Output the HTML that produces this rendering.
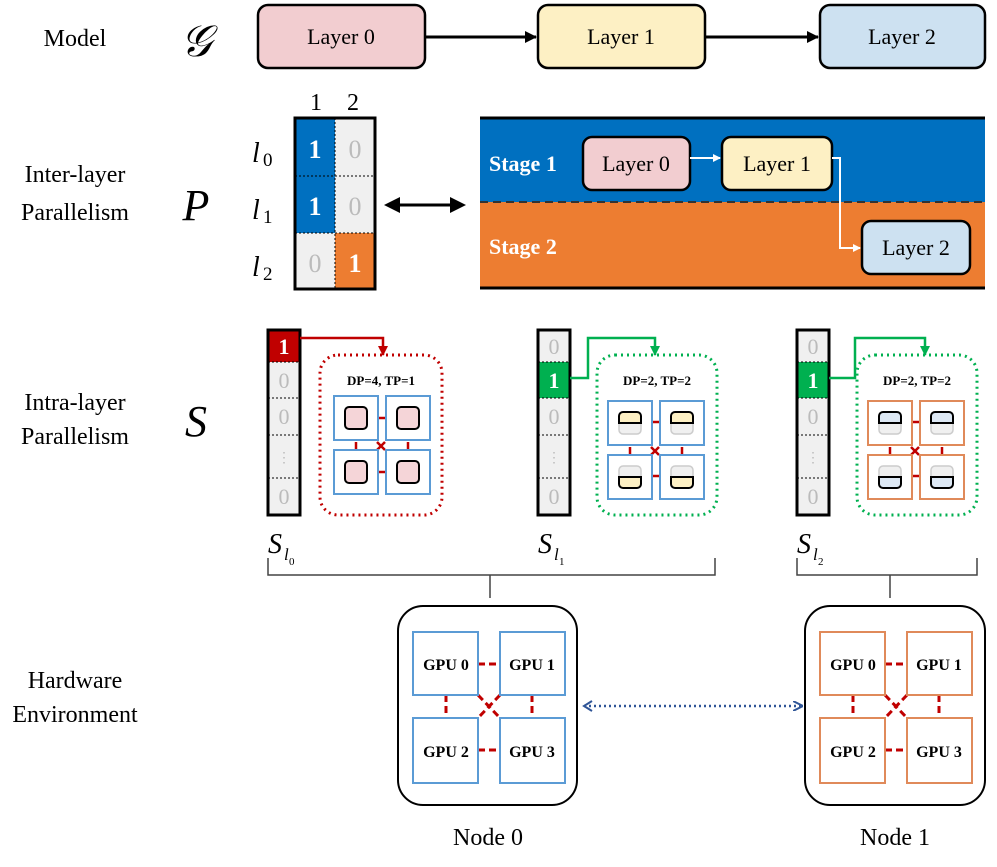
<!DOCTYPE html>
<html><head><meta charset="utf-8"><style>body{margin:0;background:#fff}svg{display:block}</style></head><body>
<svg width="997" height="867" viewBox="0 0 997 867" xmlns="http://www.w3.org/2000/svg" font-family="Liberation Serif, serif">
<defs>
<marker id="ab" markerWidth="12" markerHeight="12" refX="11" refY="6" orient="auto" markerUnits="userSpaceOnUse"><path d="M0,0 L12,6 L0,12 Z" fill="#000"/></marker>
<marker id="aw" markerWidth="8" markerHeight="8" refX="7" refY="4" orient="auto" markerUnits="userSpaceOnUse"><path d="M0,0 L8,4 L0,8 Z" fill="#fff"/></marker>
<marker id="ar" markerWidth="10" markerHeight="10" refX="9" refY="5" orient="auto" markerUnits="userSpaceOnUse"><path d="M0,0 L10,5 L0,10 Z" fill="#c00000"/></marker>
<marker id="ag" markerWidth="10" markerHeight="10" refX="9" refY="5" orient="auto" markerUnits="userSpaceOnUse"><path d="M0,0 L10,5 L0,10 Z" fill="#00b050"/></marker>
<marker id="abl" markerWidth="10" markerHeight="10" refX="9" refY="5" orient="auto" markerUnits="userSpaceOnUse"><path d="M0,0 L10,5 L0,10" fill="none" stroke="#2f5597" stroke-width="2"/></marker>
</defs>
<g font-size="24" text-anchor="middle" fill="#000">
<text x="75" y="46">Model</text>
<text x="75" y="182">Inter-layer</text>
<text x="75" y="220">Parallelism</text>
<text x="75" y="410">Intra-layer</text>
<text x="75" y="444">Parallelism</text>
<text x="75" y="688">Hardware</text>
<text x="75" y="722">Environment</text>
</g>
<g font-size="44" font-style="italic" text-anchor="middle">
<text x="196" y="56">𝒢</text>
<text x="196" y="220">P</text>
<text x="196" y="436">S</text>
</g>
<rect x="258" y="5" width="167" height="63" rx="10" fill="#f2cdd0" stroke="#000" stroke-width="2.5"/>
<rect x="538" y="5" width="167" height="63" rx="10" fill="#fdf0c4" stroke="#000" stroke-width="2.5"/>
<rect x="820" y="5" width="165" height="63" rx="10" fill="#cde1f1" stroke="#000" stroke-width="2.5"/>
<g font-size="22" text-anchor="middle"><text x="341" y="44">Layer 0</text><text x="621" y="44">Layer 1</text><text x="902" y="44">Layer 2</text></g>
<line x1="425" y1="37" x2="536" y2="37" stroke="#000" stroke-width="3" marker-end="url(#ab)"/>
<line x1="705" y1="37" x2="818" y2="37" stroke="#000" stroke-width="3" marker-end="url(#ab)"/>
<rect x="295" y="118" width="40" height="115" fill="#0070c0"/>
<rect x="335" y="118" width="40" height="115" fill="#f0f0f0"/>
<rect x="295" y="233" width="40" height="56" fill="#f0f0f0"/>
<rect x="335" y="233" width="40" height="56" fill="#ed7d31"/>
<g stroke="#000" stroke-width="1" stroke-dasharray="2,2"><line x1="295" y1="176" x2="375" y2="176"/><line x1="295" y1="233" x2="375" y2="233"/><line x1="335" y1="118" x2="335" y2="289"/></g>
<rect x="295" y="118" width="80" height="171" fill="none" stroke="#000" stroke-width="3"/>
<g font-size="26" text-anchor="middle">
<text x="315" y="158" fill="#fff" font-weight="bold">1</text><text x="355" y="158" fill="#bbb">0</text>
<text x="315" y="215" fill="#fff" font-weight="bold">1</text><text x="355" y="215" fill="#bbb">0</text>
<text x="315" y="272" fill="#bbb">0</text><text x="355" y="272" fill="#fff" font-weight="bold">1</text>
</g>
<g font-size="24" text-anchor="middle"><text x="316" y="110">1</text><text x="353" y="110">2</text></g>
<g font-size="28" font-style="italic"><text x="252" y="162">l</text><text x="252" y="219">l</text><text x="252" y="276">l</text></g>
<g font-size="19"><text x="263" y="166">0</text><text x="263" y="223">1</text><text x="263" y="280">2</text></g>
<line x1="398" y1="205" x2="452" y2="205" stroke="#000" stroke-width="3"/>
<path d="M384,205 L400,197 L400,213 Z" fill="#000"/>
<path d="M466,205 L450,197 L450,213 Z" fill="#000"/>
<rect x="480" y="118" width="505" height="84" fill="#0070c0"/>
<rect x="480" y="202" width="505" height="86" fill="#ed7d31"/>
<line x1="480" y1="118" x2="985" y2="118" stroke="#000" stroke-width="3"/>
<line x1="480" y1="288" x2="985" y2="288" stroke="#000" stroke-width="3"/>
<line x1="480" y1="202" x2="985" y2="202" stroke="#333" stroke-width="2" stroke-dasharray="8,5"/>
<g font-size="22" font-weight="bold" fill="#fff"><text x="489" y="171">Stage 1</text><text x="489" y="254">Stage 2</text></g>
<rect x="583" y="137" width="107" height="53" rx="9" fill="#f2cdd0" stroke="#000" stroke-width="2.5"/>
<rect x="722" y="137" width="110" height="53" rx="9" fill="#fdf0c4" stroke="#000" stroke-width="2.5"/>
<rect x="862" y="221" width="108" height="53" rx="9" fill="#cde1f1" stroke="#000" stroke-width="2.5"/>
<g font-size="22" text-anchor="middle"><text x="636" y="171">Layer 0</text><text x="777" y="171">Layer 1</text><text x="916" y="255">Layer 2</text></g>
<line x1="690" y1="158" x2="720" y2="158" stroke="#fff" stroke-width="2" marker-end="url(#aw)"/>
<path d="M832,158 H840 V248 H860" fill="none" stroke="#fff" stroke-width="2" marker-end="url(#aw)"/>
<g font-size="22" text-anchor="middle">
<rect x="268" y="330" width="32" height="185" fill="#f0f0f0"/>
<rect x="268" y="330" width="32" height="32" fill="#c00000"/>
<rect x="538" y="330" width="32" height="185" fill="#f0f0f0"/>
<rect x="538" y="362" width="32" height="36" fill="#00b050"/>
<rect x="797" y="330" width="32" height="185" fill="#f0f0f0"/>
<rect x="797" y="362" width="32" height="36" fill="#00b050"/>
<g stroke="#000" stroke-width="1" stroke-dasharray="2,2">
<line x1="268" y1="362" x2="300" y2="362"/><line x1="268" y1="398" x2="300" y2="398"/><line x1="268" y1="435" x2="300" y2="435"/><line x1="268" y1="478" x2="300" y2="478"/>
<line x1="538" y1="362" x2="570" y2="362"/><line x1="538" y1="398" x2="570" y2="398"/><line x1="538" y1="435" x2="570" y2="435"/><line x1="538" y1="478" x2="570" y2="478"/>
<line x1="797" y1="362" x2="829" y2="362"/><line x1="797" y1="398" x2="829" y2="398"/><line x1="797" y1="435" x2="829" y2="435"/><line x1="797" y1="478" x2="829" y2="478"/>
</g>
<rect x="268" y="330" width="32" height="185" fill="none" stroke="#000" stroke-width="3"/>
<rect x="538" y="330" width="32" height="185" fill="none" stroke="#000" stroke-width="3"/>
<rect x="797" y="330" width="32" height="185" fill="none" stroke="#000" stroke-width="3"/>
<text x="284" y="354" fill="#fff" font-weight="bold">1</text><text x="284" y="388" fill="#bbb">0</text><text x="284" y="424" fill="#bbb">0</text><text x="284" y="462" fill="#bbb" font-size="14">⋮</text><text x="284" y="504" fill="#bbb">0</text>
<text x="554" y="354" fill="#bbb">0</text><text x="554" y="388" fill="#fff" font-weight="bold">1</text><text x="554" y="424" fill="#bbb">0</text><text x="554" y="462" fill="#bbb" font-size="14">⋮</text><text x="554" y="504" fill="#bbb">0</text>
<text x="813" y="354" fill="#bbb">0</text><text x="813" y="388" fill="#fff" font-weight="bold">1</text><text x="813" y="424" fill="#bbb">0</text><text x="813" y="462" fill="#bbb" font-size="14">⋮</text><text x="813" y="504" fill="#bbb">0</text>
</g>
<path d="M300,338 H383 V355" fill="none" stroke="#c00000" stroke-width="2.5" marker-end="url(#ar)"/>
<path d="M570,378 H588 V338 H655 V355" fill="none" stroke="#00b050" stroke-width="2.5" marker-end="url(#ag)"/>
<path d="M829,378 H855 V338 H925 V355" fill="none" stroke="#00b050" stroke-width="2.5" marker-end="url(#ag)"/>
<rect x="320" y="355" width="122" height="160" rx="18" fill="none" stroke="#c00000" stroke-width="3" stroke-dasharray="2,4"/>
<rect x="597" y="355" width="120" height="160" rx="18" fill="none" stroke="#00b050" stroke-width="3" stroke-dasharray="2,4"/>
<rect x="857" y="355" width="120" height="160" rx="18" fill="none" stroke="#00b050" stroke-width="3" stroke-dasharray="2,4"/>
<g font-size="13" font-weight="bold" text-anchor="middle"><text x="381" y="385">DP=4, TP=1</text><text x="657" y="385">DP=2, TP=2</text><text x="917" y="385">DP=2, TP=2</text></g>
<g stroke="#c00000" stroke-width="2.5">
<line x1="378" y1="418" x2="386" y2="418"/><line x1="378" y1="472" x2="386" y2="472"/><line x1="356" y1="442" x2="356" y2="450"/><line x1="408" y1="442" x2="408" y2="450"/><path d="M377,442 l8,8 M385,442 l-8,8"/>
<line x1="652" y1="422" x2="660" y2="422"/><line x1="652" y1="476" x2="660" y2="476"/><line x1="630" y1="447" x2="630" y2="454"/><line x1="682" y1="447" x2="682" y2="454"/><path d="M651,447 l8,8 M659,447 l-8,8"/>
<line x1="912" y1="422" x2="920" y2="422"/><line x1="912" y1="476" x2="920" y2="476"/><line x1="890" y1="447" x2="890" y2="454"/><line x1="942" y1="447" x2="942" y2="454"/><path d="M911,447 l8,8 M919,447 l-8,8"/>
</g>
<g fill="#fff" stroke="#5b9bd5" stroke-width="2">
<rect x="334" y="396" width="44" height="44"/><rect x="386" y="396" width="44" height="44"/><rect x="334" y="450" width="44" height="44"/><rect x="386" y="450" width="44" height="44"/>
<rect x="608" y="401" width="44" height="44"/><rect x="660" y="401" width="44" height="44"/><rect x="608" y="455" width="44" height="44"/><rect x="660" y="455" width="44" height="44"/>
</g>
<g fill="#fff" stroke="#e08a5a" stroke-width="2">
<rect x="868" y="401" width="44" height="44"/><rect x="920" y="401" width="44" height="44"/><rect x="868" y="455" width="44" height="44"/><rect x="920" y="455" width="44" height="44"/>
</g>
<g fill="#f5d5d8" stroke="#000" stroke-width="2">
<rect x="345" y="407" width="22" height="22" rx="4"/><rect x="397" y="407" width="22" height="22" rx="4"/><rect x="345" y="461" width="22" height="22" rx="4"/><rect x="397" y="461" width="22" height="22" rx="4"/>
</g>
<g stroke="#ccc" stroke-width="1.5" fill="#f0f0f0">
<rect x="619" y="412" width="22" height="22" rx="4"/><rect x="671" y="412" width="22" height="22" rx="4"/><rect x="619" y="466" width="22" height="22" rx="4"/><rect x="671" y="466" width="22" height="22" rx="4"/>
<rect x="879" y="412" width="22" height="22" rx="4"/><rect x="931" y="412" width="22" height="22" rx="4"/><rect x="879" y="466" width="22" height="22" rx="4"/><rect x="931" y="466" width="22" height="22" rx="4"/>
</g>
<g stroke="#000" stroke-width="2" fill="#fdf0c4">
<path d="M619,423 V416 a4,4 0 0 1 4,-4 H637 a4,4 0 0 1 4,4 V423 Z"/><path d="M671,423 V416 a4,4 0 0 1 4,-4 H689 a4,4 0 0 1 4,4 V423 Z"/>
<path d="M619,477 V484 a4,4 0 0 0 4,4 H637 a4,4 0 0 0 4,-4 V477 Z"/><path d="M671,477 V484 a4,4 0 0 0 4,4 H689 a4,4 0 0 0 4,-4 V477 Z"/>
</g>
<g stroke="#000" stroke-width="2" fill="#dde8f4">
<path d="M879,423 V416 a4,4 0 0 1 4,-4 H897 a4,4 0 0 1 4,4 V423 Z"/><path d="M931,423 V416 a4,4 0 0 1 4,-4 H949 a4,4 0 0 1 4,4 V423 Z"/>
<path d="M879,477 V484 a4,4 0 0 0 4,4 H897 a4,4 0 0 0 4,-4 V477 Z"/><path d="M931,477 V484 a4,4 0 0 0 4,4 H949 a4,4 0 0 0 4,-4 V477 Z"/>
</g>
<g font-size="28" font-style="italic"><text x="268" y="553">S</text><text x="538" y="553">S</text><text x="797" y="553">S</text></g>
<g font-size="17" font-style="italic"><text x="284" y="560">l</text><text x="554" y="560">l</text><text x="813" y="560">l</text></g>
<g font-size="11"><text x="289" y="565">0</text><text x="559" y="565">1</text><text x="818" y="565">2</text></g>
<path d="M268,558 V575 H715 V558 M490,575 V598" fill="none" stroke="#444" stroke-width="1.5"/>
<path d="M797,558 V575 H977 V558 M890,575 V598" fill="none" stroke="#444" stroke-width="1.5"/>
<rect x="398" y="606" width="179" height="199" rx="25" fill="#fff" stroke="#000" stroke-width="2"/>
<rect x="805" y="606" width="180" height="199" rx="25" fill="#fff" stroke="#000" stroke-width="2"/>
<g stroke="#c00000" stroke-width="3" stroke-dasharray="7,4">
<line x1="478" y1="664" x2="500" y2="664"/><line x1="478" y1="750" x2="500" y2="750"/><line x1="446" y1="695" x2="446" y2="718"/><line x1="532" y1="695" x2="532" y2="718"/><line x1="478" y1="695" x2="500" y2="718"/><line x1="500" y1="695" x2="478" y2="718"/>
<line x1="885" y1="664" x2="907" y2="664"/><line x1="885" y1="750" x2="907" y2="750"/><line x1="853" y1="695" x2="853" y2="718"/><line x1="939" y1="695" x2="939" y2="718"/><line x1="885" y1="695" x2="907" y2="718"/><line x1="907" y1="695" x2="885" y2="718"/>
</g>
<g fill="#fff" stroke="#5b9bd5" stroke-width="2">
<rect x="413" y="632" width="65" height="63"/><rect x="500" y="632" width="65" height="63"/><rect x="413" y="718" width="65" height="65"/><rect x="500" y="718" width="65" height="65"/>
</g>
<g fill="#fff" stroke="#e08a5a" stroke-width="2">
<rect x="820" y="632" width="65" height="63"/><rect x="907" y="632" width="65" height="63"/><rect x="820" y="718" width="65" height="65"/><rect x="907" y="718" width="65" height="65"/>
</g>
<g font-size="16" font-weight="bold" text-anchor="middle">
<text x="446" y="670">GPU 0</text><text x="532" y="670">GPU 1</text><text x="446" y="757">GPU 2</text><text x="532" y="757">GPU 3</text>
<text x="853" y="670">GPU 0</text><text x="939" y="670">GPU 1</text><text x="853" y="757">GPU 2</text><text x="939" y="757">GPU 3</text>
</g>
<line x1="584" y1="706" x2="802" y2="706" stroke="#2f5597" stroke-width="2.5" stroke-dasharray="2,3" marker-end="url(#abl)"/>
<path d="M592,701 L584,706 L592,711" fill="none" stroke="#2f5597" stroke-width="2"/>
<g font-size="24" text-anchor="middle"><text x="488" y="845">Node 0</text><text x="895" y="845">Node 1</text></g>
</svg>
</body></html>
